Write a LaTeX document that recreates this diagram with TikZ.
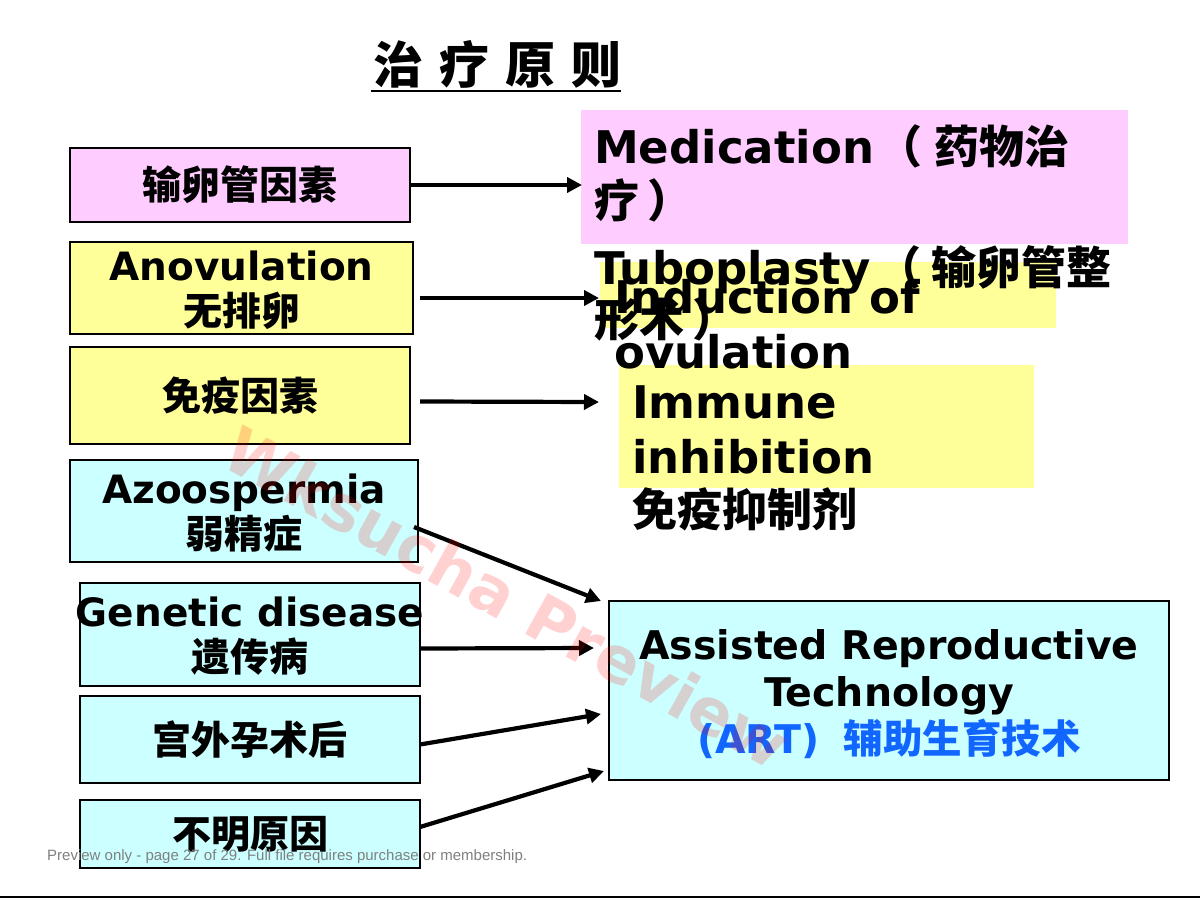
\documentclass[tikz,border=0pt]{standalone}
\usepackage{fontspec}
\setmainfont{DejaVu Sans}
\newfontfamily\cjk{Noto Sans CJK SC}
\newfontfamily\footfont{Liberation Sans}
\usetikzlibrary{arrows.meta,calc}
\newcommand\zh[1]{{\cjk\bfseries #1}}
\definecolor{pinkf}{HTML}{FFCCFF}
\definecolor{yelf}{HTML}{FFFF99}
\definecolor{cyanf}{HTML}{CCFFFF}
\definecolor{artblue}{HTML}{1166FF}
\begin{document}
\begin{tikzpicture}[x=1pt,y=-1pt,
 box/.style={draw=black, line width=1.2pt, anchor=north west, inner sep=0pt, outer sep=0pt},
 plain/.style={anchor=north west, inner sep=0pt, outer sep=0pt},
 lbl/.style={align=center, inner sep=0pt, font=\bfseries\fontsize{39}{45}\selectfont},
 rt/.style={anchor=base west, inner sep=0pt, font=\bfseries\fontsize{45}{54}\selectfont},
 arr/.style={line width=4.2pt, -{Triangle[length=15pt,width=15pt]}},
]
\useasboundingbox (0,0) rectangle (1200,900);
\fill[white] (0,0) rectangle (1200,900);

% title
\node[anchor=base west, inner sep=0pt] (title) at (373,83)
  {\cjk\bfseries\fontsize{50}{50}\selectfont\spaceskip=16pt 治 疗 原 则};
\draw[line width=2.5pt] ($(title.base west)+(-2,8)$) -- ($(title.base east)+(0,8)$);

% left boxes
\node[box, fill=pinkf, minimum width=340pt, minimum height=74pt] (b1) at (70,148) {};
\node[lbl] (t1) at (b1.center) {\zh{输卵管因素}};
\node[box, fill=yelf, minimum width=343pt, minimum height=92pt] (b2) at (70,242) {};
\node[lbl] (t2) at ([yshift=-2pt]b2.center) {Anovulation\\\zh{无排卵}};
\node[box, fill=yelf, minimum width=340pt, minimum height=97pt] (b3) at (70,347) {};
\node[lbl] (t3) at (b3.center) {\zh{免疫因素}};
\node[box, fill=cyanf, minimum width=348pt, minimum height=102pt] (b4) at (70,460) {};
\node[lbl] (t4) at ([yshift=-2pt]b4.center) {Azoospermia\\\zh{弱精症}};
\node[box, fill=cyanf, minimum width=340pt, minimum height=103pt] (b5) at (80,583) {};
\node[lbl] (t5) at ([yshift=-2pt]b5.center) {Genetic disease\\\zh{遗传病}};
\node[box, fill=cyanf, minimum width=340pt, minimum height=87pt] (b6) at (80,696) {};
\node[lbl] (t6) at (b6.center) {\zh{宫外孕术后}};
\node[box, fill=cyanf, minimum width=340pt, minimum height=68pt] (b7) at (80,800) {};
\node[lbl] (t7) at (b7.center) {\zh{不明原因}};

% right side
\node[plain, fill=pinkf, minimum width=547pt, minimum height=134pt] (medbox) at (581,110) {};
\node[plain, fill=yelf, minimum width=456pt, minimum height=66pt] (indbox) at (600,262) {};
\node[plain, fill=yelf, minimum width=415pt, minimum height=123pt] (immbox) at (619,365) {};

\node[rt] (med1) at (594,163) {Medication\hspace{3pt}\zh{（}\hspace{12pt}\zh{药物治}};
\node[rt] (med2) at (594,217) {\zh{疗}\hspace{8pt}\zh{）}};
\node[rt] (tub1) at (594,284) {Tuboplasty\hspace{6pt}\zh{（}\hspace{10pt}\zh{输卵管整}};
\node[rt] (tub2) at (594,336) {\zh{形术}\hspace{8pt}\zh{）}};
\node[rt] (ind1) at (614,313) {Induction of};
\node[rt] (ind2) at (614,368) {ovulation};
\node[rt] (imm1) at (632,418) {Immune};
\node[rt] (imm2) at (632,473) {inhibition};
\node[rt] (imm3) at (632,526) {\zh{免疫抑制剂}};

\node[box, fill=cyanf, minimum width=560pt, minimum height=179pt] (art) at (609,601) {};
\node[lbl, font=\bfseries\fontsize{39.5}{47}\selectfont] (artt) at ([yshift=-4pt]art.center)
  {Assisted Reproductive\\Technology\\\textcolor{artblue}{(ART)\hspace{24pt}\zh{辅助生育技术}}};

% arrow ends
\coordinate (e1) at (582,185);
\coordinate (e2) at (599,298);
\coordinate (e3) at (599,402);
\coordinate (e4) at (601,601);
\coordinate (e5) at (594,648);
\coordinate (e6) at (601,714);
\coordinate (e7) at (604,771);

\draw[arr] (b1.east) -- (e1);
\draw[arr] ([xshift=7pt,yshift=-10pt]b2.east) -- (e2);
\draw[arr] ([xshift=10pt,yshift=-6pt]b3.east) -- (e3);
\draw[arr] ([xshift=-4pt,yshift=-16pt]b4.east) -- (e4);
\draw[arr] ([yshift=-14pt]b5.east) -- (e5);
\draw[arr] ([yshift=-5pt]b6.east) -- (e6);
\draw[arr] ([yshift=7pt]b7.east) -- (e7);

% watermark
\node[rotate=-29, text=red, opacity=0.18, inner sep=0pt,
  font=\bfseries\fontsize{64}{64}\selectfont] (wm) at (507,597) {Wksucha Preview};

% footer
\node[anchor=base west, inner sep=0pt, text=black!50,
  font=\footfont\fontsize{15}{15}\selectfont] (foot) at (47,860)
  {Preview only - page 27 of 29. Full file requires purchase or membership.};
\coordinate (bl) at (0,897);
\coordinate (br) at (1200,897);
\draw[line width=2.5pt] (bl) -- (br);
\end{tikzpicture}
\end{document}
